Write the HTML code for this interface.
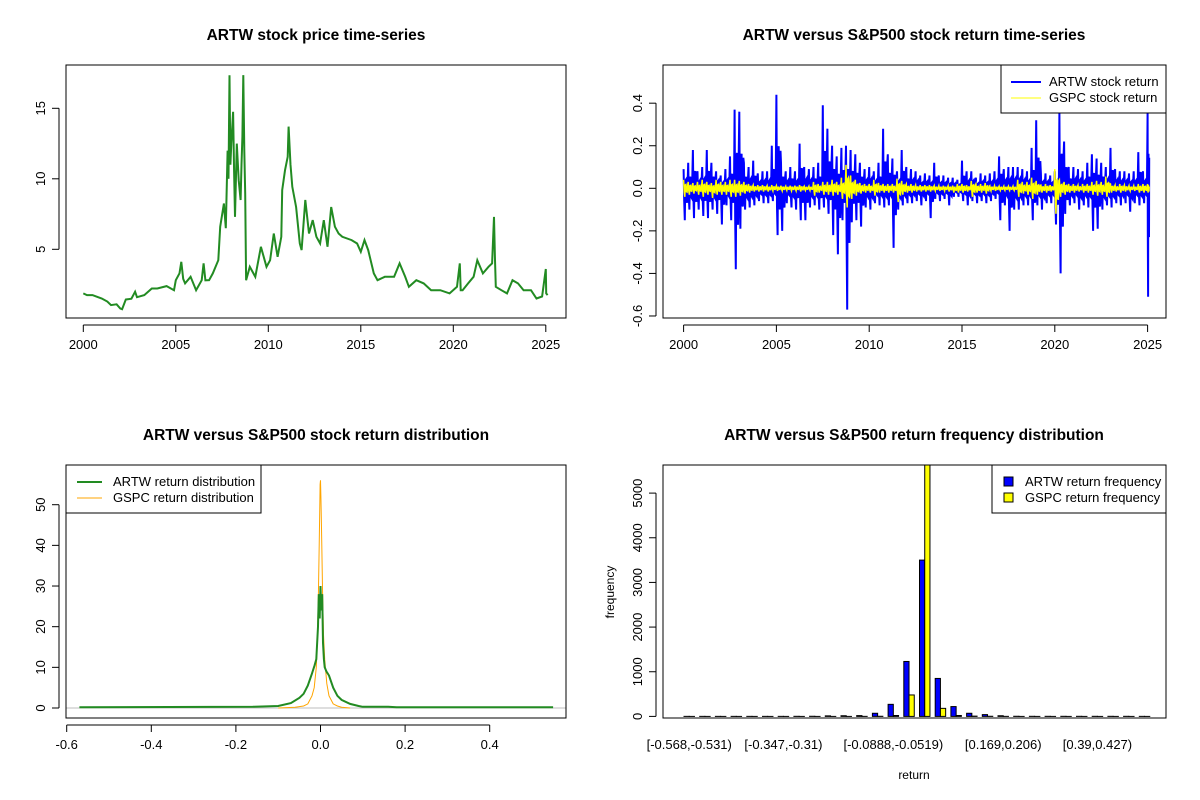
<!DOCTYPE html>
<html><head><meta charset="utf-8"><style>
body{margin:0;background:#fff}
svg{display:block;font-family:"Liberation Sans",Arial,sans-serif}
</style></head><body>
<svg id="c" width="1200" height="800" xmlns="http://www.w3.org/2000/svg"></svg>
<script>
// ---- Panel 1 data: ARTW price ----
const priceYears=[2000.0,2000.2,2000.5,2000.8,2001.0,2001.3,2001.5,2001.8,2002.0,2002.1,2002.3,2002.6,2002.8,2002.9,2003.3,2003.7,2004.0,2004.5,2004.9,2005.0,2005.2,2005.3,2005.4,2005.5,2005.8,2006.1,2006.4,2006.5,2006.6,2006.8,2007.0,2007.3,2007.4,2007.6,2007.7,2007.8,2007.85,2007.9,2007.95,2008.0,2008.1,2008.15,2008.2,2008.3,2008.4,2008.5,2008.55,2008.6,2008.65,2008.7,2008.75,2008.8,2009.0,2009.3,2009.5,2009.6,2009.9,2010.1,2010.3,2010.5,2010.7,2010.75,2010.9,2011.05,2011.1,2011.2,2011.3,2011.5,2011.7,2011.8,2012.0,2012.2,2012.4,2012.6,2012.8,2013.0,2013.2,2013.4,2013.6,2013.8,2014.0,2014.5,2014.8,2015.0,2015.2,2015.4,2015.7,2015.9,2016.3,2016.8,2017.1,2017.4,2017.6,2018.0,2018.4,2018.8,2019.3,2019.8,2020.2,2020.35,2020.4,2020.5,2020.8,2021.1,2021.3,2021.6,2021.9,2022.1,2022.2,2022.25,2022.3,2022.6,2022.9,2023.2,2023.5,2023.8,2024.2,2024.5,2024.8,2025.0,2025.02,2025.1];
const priceVals=[1.87,1.75,1.75,1.6,1.51,1.3,1.04,1.1,0.8,0.75,1.44,1.5,1.99,1.6,1.75,2.22,2.22,2.39,2.1,2.81,3.3,4.11,2.9,2.58,3.05,2.1,2.81,4.0,2.8,2.81,3.29,4.23,6.6,8.25,6.5,12.0,10.0,17.35,11.0,12.5,14.75,10.5,7.3,12.5,9.9,8.5,11.0,13.0,17.35,12.0,8.96,2.81,3.76,3.05,4.5,5.18,3.76,4.23,6.12,4.47,5.89,9.2,10.6,11.56,13.7,11.0,9.43,8.0,5.41,4.94,8.5,6.12,7.07,5.89,5.41,7.07,5.18,8.0,6.6,6.12,5.89,5.65,5.41,4.82,5.65,4.94,3.29,2.81,3.05,3.05,4.0,3.05,2.34,2.81,2.58,2.1,2.1,1.87,2.34,4.0,2.1,2.1,2.58,3.05,4.23,3.29,3.76,4.0,7.3,4.5,2.34,2.1,1.87,2.81,2.58,2.1,2.1,1.51,1.65,3.6,1.87,1.75];
// ---- Panel 2 data: quarterly return extremes ----
const retStartYear=2000;
const artwHi=[0.09,0.12,0.18,0.08, 0.10,0.18,0.12,0.08, 0.06,0.09,0.15,0.37, 0.36,0.12,0.10,0.13, 0.07,0.08,0.08,0.20, 0.44,0.12,0.08,0.10, 0.08,0.21,0.10,0.09, 0.10,0.12,0.39,0.28, 0.20,0.15,0.19,0.20, 0.18,0.16,0.12,0.09, 0.10,0.08,0.12,0.28, 0.16,0.14,0.08,0.18, 0.10,0.09,0.08,0.06, 0.07,0.06,0.12,0.06, 0.06,0.05,0.05,0.04, 0.13,0.08,0.08,0.05, 0.07,0.06,0.07,0.08, 0.15,0.09,0.10,0.10, 0.10,0.09,0.08,0.19, 0.32,0.07,0.07,0.06, 0.08,0.36,0.22,0.10, 0.10,0.09,0.08,0.12, 0.16,0.14,0.12,0.10, 0.19,0.09,0.08,0.08, 0.07,0.08,0.17,0.08, 0.36];
const artwLo=[-0.15,-0.10,-0.14,-0.10, -0.13,-0.14,-0.10,-0.12, -0.17,-0.08,-0.15,-0.38, -0.19,-0.10,-0.09,-0.08, -0.06,-0.07,-0.07,-0.06, -0.22,-0.20,-0.07,-0.09, -0.10,-0.15,-0.15,-0.09, -0.08,-0.10,-0.09,-0.12, -0.22,-0.31,-0.15,-0.57, -0.16,-0.15,-0.18,-0.09, -0.10,-0.07,-0.08,-0.09, -0.08,-0.28,-0.10,-0.08, -0.07,-0.07,-0.06,-0.08, -0.06,-0.14,-0.05,-0.06, -0.05,-0.08,-0.04,-0.04, -0.06,-0.08,-0.06,-0.07, -0.06,-0.07,-0.06,-0.05, -0.15,-0.08,-0.20,-0.10, -0.10,-0.08,-0.08,-0.15, -0.08,-0.10,-0.07,-0.07, -0.17,-0.40,-0.12,-0.08, -0.07,-0.10,-0.08,-0.09, -0.20,-0.19,-0.10,-0.08, -0.09,-0.07,-0.08,-0.07, -0.11,-0.07,-0.08,-0.07, -0.51];
const gspcHi=[0.04,0.03,0.025,0.03, 0.04,0.03,0.025,0.04, 0.03,0.03,0.04,0.04, 0.035,0.03,0.02,0.015, 0.015,0.015,0.012,0.015, 0.012,0.012,0.01,0.012, 0.012,0.015,0.01,0.01, 0.03,0.02,0.03,0.03, 0.04,0.03,0.05,0.11, 0.06,0.04,0.025,0.02, 0.02,0.04,0.025,0.02, 0.02,0.02,0.045,0.035, 0.02,0.02,0.015,0.015, 0.015,0.015,0.012,0.012, 0.012,0.012,0.012,0.02, 0.02,0.015,0.035,0.02, 0.02,0.025,0.012,0.012, 0.01,0.01,0.01,0.01, 0.04,0.03,0.03,0.05, 0.035,0.015,0.02,0.015, 0.09,0.04,0.03,0.02, 0.02,0.015,0.02,0.02, 0.03,0.035,0.03,0.055, 0.02,0.015,0.02,0.015, 0.012,0.012,0.02,0.02, 0.02];
const gspcLo=[-0.04,-0.03,-0.025,-0.03, -0.04,-0.03,-0.045,-0.03, -0.03,-0.03,-0.04,-0.04, -0.035,-0.025,-0.02,-0.015, -0.015,-0.015,-0.015,-0.012, -0.012,-0.012,-0.01,-0.012, -0.012,-0.015,-0.01,-0.01, -0.035,-0.02,-0.03,-0.03, -0.035,-0.03,-0.05,-0.09, -0.05,-0.035,-0.025,-0.02, -0.02,-0.035,-0.02,-0.02, -0.02,-0.02,-0.065,-0.03, -0.02,-0.02,-0.015,-0.015, -0.015,-0.015,-0.012,-0.012, -0.012,-0.015,-0.02,-0.02, -0.02,-0.015,-0.04,-0.02, -0.02,-0.025,-0.012,-0.012, -0.01,-0.01,-0.01,-0.01, -0.04,-0.025,-0.03,-0.05, -0.03,-0.02,-0.02,-0.015, -0.12,-0.04,-0.03,-0.02, -0.02,-0.015,-0.02,-0.02, -0.03,-0.035,-0.03,-0.04, -0.02,-0.015,-0.02,-0.015, -0.012,-0.012,-0.02,-0.02, -0.02];
// ---- Panel 3 data: densities ----
const artwDenX=[-0.57,-0.16,-0.1,-0.07,-0.05,-0.04,-0.03,-0.02,-0.014,-0.01,-0.006,-0.004,-0.002,0,0.002,0.004,0.006,0.008,0.01,0.014,0.02,0.03,0.04,0.05,0.07,0.09,0.1,0.16,0.18,0.55];
const artwDenY=[0.2,0.3,0.5,1.2,2.5,3.5,5.5,8.5,10.5,12,20,28,22,30,24,28,16,12,10,9,8,5,3,2,1,0.5,0.3,0.3,0.2,0.2];
const gspcDenX=[-0.1,-0.06,-0.04,-0.03,-0.02,-0.015,-0.01,-0.007,-0.005,-0.003,-0.002,-0.001,0,0.001,0.002,0.003,0.005,0.007,0.01,0.015,0.02,0.03,0.04,0.05,0.07];
const gspcDenY=[0,0.2,0.5,1,3,5,10,18,28,40,48,55,56,52,47,40,28,18,12,6,3,1,0.5,0.2,0];
// ---- Panel 4 data: histogram ----
const binLabels=["[-0.568,-0.531)","[-0.531,-0.494)","[-0.494,-0.457)","[-0.457,-0.42)","[-0.42,-0.384)","[-0.384,-0.347)","[-0.347,-0.31)","[-0.31,-0.273)","[-0.273,-0.236)","[-0.236,-0.199)","[-0.199,-0.162)","[-0.162,-0.126)","[-0.126,-0.0888)","[-0.0888,-0.0519)","[-0.0519,-0.015)","[-0.015,0.0219)","[0.0219,0.0588)","[0.0588,0.0957)","[0.0957,0.133)","[0.133,0.169)","[0.169,0.206)","[0.206,0.243)","[0.243,0.28)","[0.28,0.317)","[0.317,0.353)","[0.353,0.39)","[0.39,0.427)","[0.427,0.464)","[0.464,0.501)","[0.501,0.538)"];
const shownLabels=[0,6,13,20,26];
const artwFreq=[1,1,1,1,1,1,1,2,3,12,15,18,70,270,1230,3500,850,220,70,40,15,3,2,2,2,2,2,2,2,1];
const gspcFreq=[0,0,0,0,0,0,0,0,0,0,0,1,3,20,480,5700,180,20,6,3,1,0,0,0,0,0,0,0,0,0];

const NS="http://www.w3.org/2000/svg";
const svg=document.getElementById('c');
function mk(tag,attrs,parent,name,inter){const e=document.createElementNS(NS,tag);for(const k in attrs)e.setAttribute(k,attrs[k]);(parent||svg).appendChild(e);


return e;}
function txt(x,y,s,opts,name){const t=mk('text',Object.assign({x:x,y:y,'font-size':13,'text-anchor':'middle',fill:'#000'},opts||{}),null,name,false);t.textContent=s;return t;}
function frame(L,T,R,B,name){mk('rect',{x:L,y:T,width:R-L,height:B-T,fill:'none',stroke:'#000','stroke-width':1},null,name,false);}
function xaxis(ticks,labels,sx,B,name){const g=mk('g',{},null,name,false);const a=sx(ticks[0]),b=sx(ticks[ticks.length-1]);
mk('line',{x1:a,x2:b,y1:B+7,y2:B+7,stroke:'#000'},g,name+'-line',false);
ticks.forEach((t,i)=>{const x=sx(t);mk('line',{x1:x,x2:x,y1:B+7,y2:B+14,stroke:'#000'},g,name+'-tick',false);txt(x,B+31,labels[i],{},name+'-label');});}
function yaxis(ticks,labels,sy,L,name){const g=mk('g',{},null,name,false);const a=sy(ticks[0]),b=sy(ticks[ticks.length-1]);
mk('line',{x1:L-7,x2:L-7,y1:a,y2:b,stroke:'#000'},g,name+'-line',false);
ticks.forEach((t,i)=>{const y=sy(t);mk('line',{x1:L-14,x2:L-7,y1:y,y2:y,stroke:'#000'},g,name+'-tick',false);const tx=L-21;
txt(tx,y,labels[i],{transform:`rotate(-90 ${tx} ${y})`},name+'-label');});}
function title(x,y,s,name){txt(x,y,s,{'font-size':15.5,'font-weight':'bold'},name);}
function poly(pts,stroke,w,name){return mk('polyline',{points:pts.map(p=>p[0].toFixed(1)+','+p[1].toFixed(1)).join(' '),fill:'none',stroke:stroke,'stroke-width':w,'stroke-linejoin':'miter'},null,name,false);}

// ===== Panel 1 =====
{const L=66,T=65,R=566,B=318;
const sx=y=>83.3+(y-2000)*18.5, sy=p=>319.8-14.1*p;
title(316,40,'ARTW stock price time-series','price-chart-title');
poly(priceYears.map((y,i)=>[sx(y),sy(priceVals[i])]),'#228B22',2,'price-line');
frame(L,T,R,B,'price-plot-frame');
xaxis([2000,2005,2010,2015,2020,2025],['2000','2005','2010','2015','2020','2025'],sx,B,'price-x-axis');
yaxis([5,10,15],['5','10','15'],sy,L,'price-y-axis');}

// ===== Panel 2 =====
{const L=663,T=65,R=1166,B=318;
const sx=y=>683.6+(y-2000)*18.56, sy=v=>188.3-212.8*v;
title(914,40,'ARTW versus S&P500 stock return time-series','return-ts-chart-title');
function zig(hi,lo){const pts=[];const n=hi.length;for(let i=0;i<n;i++){const y0=retStartYear+i*0.25;const span=(i<n-1)?0.25:0.1;
for(let k=0;k<4;k++){const yy=y0+span*k/4;const alt=(k%2===0);pts.push([sx(yy),sy(alt?hi[i]*(k===0?1:0.45):lo[i]*(k===1?1:0.45))]);pts.push([sx(yy+span/8),sy(alt?lo[i]*0.4:hi[i]*0.4)]);}}return pts;}
poly(zig(artwHi,artwLo),'#0000FF',2,'artw-return-line');
poly(zig(gspcHi,gspcLo),'#FFFF00',1.5,'gspc-return-line');
frame(L,T,R,B,'return-ts-plot-frame');
xaxis([2000,2005,2010,2015,2020,2025],['2000','2005','2010','2015','2020','2025'],sx,B,'return-ts-x-axis');
yaxis([-0.6,-0.4,-0.2,0,0.2,0.4],['-0.6','-0.4','-0.2','0.0','0.2','0.4'],sy,L,'return-ts-y-axis');
const lg=mk('g',{},null,'return-ts-legend',false);
mk('rect',{x:1001,y:65,width:165,height:48,fill:'#fff',stroke:'#000'},lg,'legend-box',false);
mk('line',{x1:1011,x2:1041,y1:82,y2:82,stroke:'#0000FF','stroke-width':2},lg,'legend-artw-swatch',false);
mk('line',{x1:1011,x2:1041,y1:98,y2:98,stroke:'#FFFF00','stroke-width':1},lg,'legend-gspc-swatch',false);
txt(1049,86,'ARTW stock return',{'text-anchor':'start'},'legend-artw-label');
txt(1049,102,'GSPC stock return',{'text-anchor':'start'},'legend-gspc-label');}

// ===== Panel 3 =====
{const L=66,T=465,R=566,B=718;
const sx=v=>320.5+423*v, sy=d=>708-4.066*d;
title(316,440,'ARTW versus S&P500 stock return distribution','density-chart-title');
mk('line',{x1:L,x2:R,y1:sy(0),y2:sy(0),stroke:'#bebebe'},null,'density-zero-line',false);
poly(gspcDenX.map((x,i)=>[sx(x),sy(gspcDenY[i])]),'#FFA500',1,'gspc-density-line');
poly(artwDenX.map((x,i)=>[sx(x),sy(artwDenY[i])]),'#228B22',2,'artw-density-line');
frame(L,T,R,B,'density-plot-frame');
xaxis([-0.6,-0.4,-0.2,0,0.2,0.4],['-0.6','-0.4','-0.2','0.0','0.2','0.4'],sx,B,'density-x-axis');
yaxis([0,10,20,30,40,50],['0','10','20','30','40','50'],sy,L,'density-y-axis');
const lg=mk('g',{},null,'density-legend',false);
mk('rect',{x:66,y:465,width:195,height:48,fill:'#fff',stroke:'#000'},lg,'legend-box',false);
mk('line',{x1:77,x2:102,y1:482,y2:482,stroke:'#228B22','stroke-width':2},lg,'legend-artw-swatch',false);
mk('line',{x1:77,x2:102,y1:498,y2:498,stroke:'#FFA500','stroke-width':1},lg,'legend-gspc-swatch',false);
txt(113,486,'ARTW return distribution',{'text-anchor':'start'},'legend-artw-label');
txt(113,502,'GSPC return distribution',{'text-anchor':'start'},'legend-gspc-label');}

// ===== Panel 4 =====
{const L=663,T=465,R=1166,B=718;
const band=15.7,bw=5.23,x0=684;
const bx=i=>x0+i*band, sy=f=>716.4-0.04466*f;
title(914,440,'ARTW versus S&P500 return frequency distribution','histogram-chart-title');
mk('clipPath',{id:'hc'},null,'histogram-clip',false).innerHTML=`<rect x="${L}" y="${T}" width="${R-L}" height="${B-T}"/>`;
artwFreq.forEach((f,i)=>{mk('rect',{x:bx(i),y:sy(f),width:bw,height:Math.max(sy(0)-sy(f),0.01),fill:'#0000FF',stroke:'#000','stroke-width':1,'clip-path':'url(#hc)'},null,'artw-bar',true);});
gspcFreq.forEach((f,i)=>{mk('rect',{x:bx(i)+bw,y:sy(f),width:bw,height:Math.max(sy(0)-sy(f),0.01),fill:'#FFFF00',stroke:'#000','stroke-width':1,'clip-path':'url(#hc)'},null,'gspc-bar',true);});
frame(L,T,R,B,'histogram-plot-frame');
yaxis([0,1000,2000,3000,4000,5000],['0','1000','2000','3000','4000','5000'],sy,L,'histogram-y-axis');
shownLabels.forEach(i=>{txt(bx(i)+bw,B+31,binLabels[i],{},'histogram-bin-label');});
txt(614,592,'frequency',{transform:'rotate(-90 614 592)','font-size':12},'histogram-y-title');
txt(914,779,'return',{'font-size':12},'histogram-x-title');
const lg=mk('g',{},null,'histogram-legend',false);
mk('rect',{x:992,y:465,width:174,height:48,fill:'#fff',stroke:'#000'},lg,'legend-box',false);
mk('rect',{x:1004,y:477,width:9,height:9,fill:'#0000FF',stroke:'#000'},lg,'legend-artw-swatch',false);
mk('rect',{x:1004,y:493,width:9,height:9,fill:'#FFFF00',stroke:'#000'},lg,'legend-gspc-swatch',false);
txt(1025,486,'ARTW return frequency',{'text-anchor':'start'},'legend-artw-label');
txt(1025,502,'GSPC return frequency',{'text-anchor':'start'},'legend-gspc-label');}
</script>
</body></html>
